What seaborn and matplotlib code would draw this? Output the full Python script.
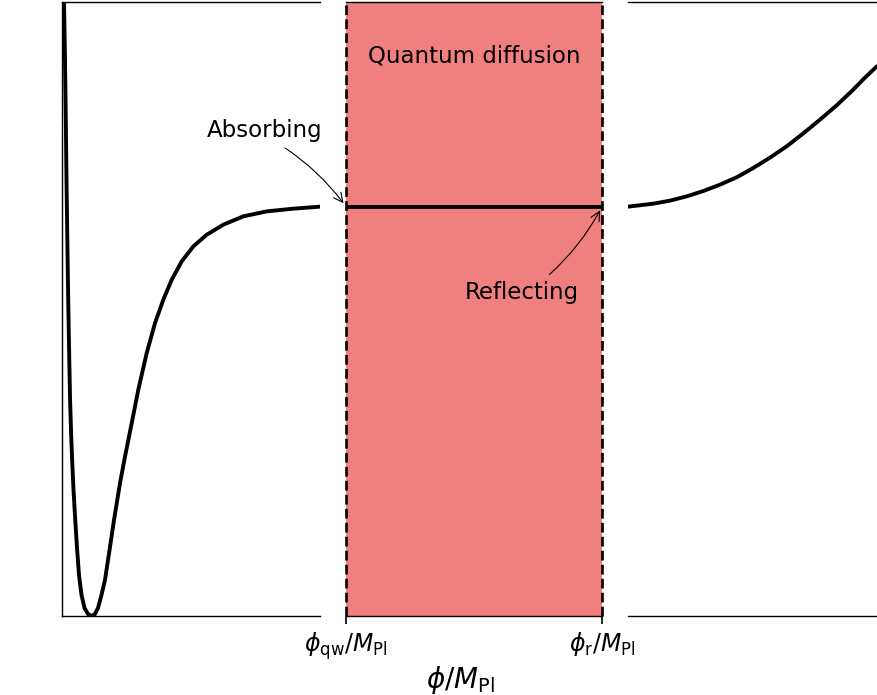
import matplotlib
matplotlib.use("Agg")
import matplotlib.pyplot as plt
import seaborn as sns

sns.set_style("white")
plt.rcParams["font.family"] = ["DejaVu Sans"]
plt.rcParams["mathtext.fontset"] = "dejavusans"
plt.rcParams["text.color"] = "black"
plt.rcParams["axes.labelcolor"] = "black"
plt.rcParams["xtick.color"] = "black"
plt.rcParams["ytick.color"] = "black"

# ---- data ----
left_phi = [0.0775, 0.1163, 0.1473, 0.1744, 0.2054, 0.2403, 0.2752, 0.3101, 0.3488,
            0.3953, 0.4457, 0.5039, 0.5814, 0.6589, 0.7558, 0.8721, 1.0078, 1.1434,
            1.2791, 1.3953, 1.5310, 1.6667, 1.8605, 2.016, 2.248, 2.442, 2.702,
            2.957, 3.283, 3.605, 3.926, 4.252, 4.640, 5.089, 5.609, 6.252, 7.027,
            7.934, 8.965, 10.0]
left_V = [1.5012, 1.3594, 1.2127, 1.0660, 0.9242, 0.7726, 0.6504, 0.5355, 0.4548,
          0.3765, 0.3081, 0.2445, 0.1663, 0.1002, 0.0513, 0.0196, 0.0049, 0.0,
          0.0049, 0.0196, 0.0513, 0.0880, 0.1687, 0.2347, 0.3244, 0.3895, 0.4712,
          0.5526, 0.6423, 0.7156, 0.7726, 0.8215, 0.8663, 0.9029, 0.9315, 0.9560,
          0.9763, 0.9885, 0.9951, 1.0]

right_phi = [0.0, 0.981, 1.628, 2.275, 2.907, 3.566, 4.225, 4.857, 5.504, 6.151,
             6.783, 7.442, 8.101, 8.733, 9.186, 9.651]
right_V = [1.0, 1.0073, 1.0147, 1.0252, 1.0379, 1.0538, 1.0721, 1.0946, 1.1198,
           1.1474, 1.1785, 1.2127, 1.2482, 1.2861, 1.3154, 1.3430]

mid_ticks = [0.0, 1.0]
mid_labels = [r"$\phi_{\rm qw}/M_{\rm Pl}$", r"$\phi_{\rm r}/M_{\rm Pl}$"]
V_plateau = 1.0

# ---- figure ----
W, H = 877, 695
fig = plt.figure(figsize=(W / 100, H / 100), dpi=100)
bot, hgt = 79 / H, 614 / H
ax1 = fig.add_axes([62 / W, bot, 258 / W, hgt])
ax2 = fig.add_axes([346 / W, bot, 256 / W, hgt])
ax3 = fig.add_axes([628 / W, bot, 249 / W, hgt])

for ax in (ax1, ax2, ax3):
    ax.set_ylim(0, 1.5)
    ax.set_yticks([])
    for s in ax.spines.values():
        s.set_color("black")
        s.set_linewidth(1.0)

# left panel
sns.lineplot(x=left_phi, y=left_V, ax=ax1, color="black", lw=2.8, sort=False)
ax1.set_xlim(0, 10)
ax1.set_xticks([])
ax1.spines["right"].set_visible(False)
ax1.set_ylabel(r"$V(\phi)$", fontsize=16)
ax1.yaxis.set_label_coords(-0.11, 0.5)

# middle panel
ax2.axvspan(mid_ticks[0], mid_ticks[1], color="lightcoral", zorder=0, lw=0)
sns.lineplot(x=mid_ticks, y=[V_plateau, V_plateau], ax=ax2, color="black", lw=2.8)
for xv in mid_ticks:
    ax2.axvline(xv, ls="--", color="black", lw=1.9, clip_on=False, zorder=3)
ax2.set_xlim(mid_ticks[0], mid_ticks[1])
ax2.set_xticks(mid_ticks, mid_labels)
ax2.tick_params(axis="x", bottom=True, length=6, width=1.2, color="black",
                labelsize=17, pad=4)
ax2.spines["left"].set_visible(False)
ax2.spines["right"].set_visible(False)
ax2.text(0.5, 0.912, "Quantum diffusion", transform=ax2.transAxes,
         ha="center", va="center", fontsize=16.5)

ax2.annotate("Absorbing", xy=(mid_ticks[0], V_plateau), xycoords="data",
             xytext=(265 / W, 1 - 131 / H), textcoords="figure fraction",
             ha="center", va="center", fontsize=16.5, annotation_clip=False,
             arrowprops=dict(arrowstyle="->", connectionstyle="arc3,rad=-0.1",
                             color="black", lw=0.8, relpos=(0.6, 0.0),
                             shrinkA=3, shrinkB=3))
ax2.annotate("Reflecting", xy=(mid_ticks[1], V_plateau), xycoords="data",
             xytext=(522 / W, 1 - 292 / H), textcoords="figure fraction",
             ha="center", va="center", fontsize=16.5, annotation_clip=False,
             arrowprops=dict(arrowstyle="->", connectionstyle="arc3,rad=0.1",
                             color="black", lw=0.8, relpos=(0.68, 1.0),
                             shrinkA=3, shrinkB=3))

# right panel
sns.lineplot(x=right_phi, y=right_V, ax=ax3, color="black", lw=2.8)
ax3.set_xlim(0, 9.651)
ax3.set_xticks([])
ax3.spines["left"].set_visible(False)
ax3.spines["right"].set_visible(False)

fig.text(460 / W, 1 - 680 / H, r"$\phi/M_{\rm Pl}$", ha="center", va="center",
         fontsize=20)

fig.savefig("out.png", dpi=100)
